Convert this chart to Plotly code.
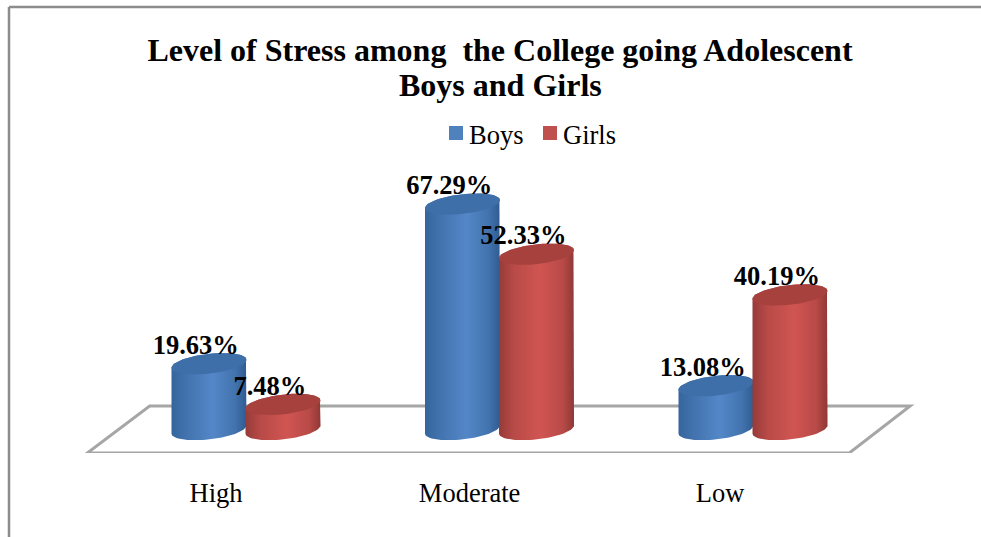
import numpy as np
import plotly.graph_objects as go

categories = ["High", "Moderate", "Low"]
series_names = ["Boys", "Girls"]
boys = [19.63, 67.29, 13.08]
girls = [7.48, 52.33, 40.19]

BOYS_RAMP = [[0, "#35659c"], [0.2, "#4273ae"], [0.55, "#5487c8"], [0.85, "#4273ae"], [1, "#2f5b90"]]
GIRLS_RAMP = [[0, "#963b39"], [0.2, "#b84a47"], [0.55, "#d05552"], [0.85, "#b84a47"], [1, "#8f3836"]]
BOYS_CAP = "#3f6fa8"
GIRLS_CAP = "#a6413e"
SWATCHES = ["#4f81bd", "#c0504d"]

W, H = 981, 537
M_L, M_R, M_T, M_B = 9, 36, 7, 84
PLOT_W, PLOT_H = W - M_L - M_R, H - M_T - M_B
OFFSET = 0.146    # bar centre relative to its category
HALF_W = 0.148    # cylinder half width, in category units
CAP_B = 2.95      # ellipse half height, in value units
CAP_TILT = 1.2    # rise of the ellipse towards its right side
TICK_POS = [-0.118, 0.882, 1.87]  # category labels sit left of the bars in this projection
SERIF = "Liberation Serif"


def px_x(p):
    return (p - M_L) / PLOT_W


def px_y(p):
    return 1 - (p - M_T) / PLOT_H


fig = go.Figure()


def cylinder(cx, value, ramp, cap):
    t = np.linspace(0, 2 * np.pi, 73)
    lower = np.linspace(np.pi, 2 * np.pi, 37)
    upper = np.linspace(0, np.pi, 37)
    # body outline: bottom arc left to right, then back across the top
    bx = np.concatenate([cx + HALF_W * np.cos(lower), cx + HALF_W * np.cos(upper)])
    by = np.concatenate([
        CAP_B * np.sin(lower) + CAP_TILT * np.cos(lower),
        value + CAP_B * np.sin(upper) + CAP_TILT * np.cos(upper),
    ])
    fig.add_trace(go.Scatter(
        x=bx, y=by, mode="lines", line=dict(width=0), fill="toself",
        fillgradient=dict(type="horizontal", colorscale=ramp),
        hoverinfo="skip", showlegend=False,
    ))
    fig.add_trace(go.Scatter(
        x=cx + HALF_W * np.cos(t),
        y=value + CAP_B * np.sin(t) + CAP_TILT * np.cos(t),
        mode="lines", line=dict(width=0), fill="toself", fillcolor=cap,
        hoverinfo="skip", showlegend=False,
    ))


for i in range(len(categories)):
    cylinder(i - OFFSET, boys[i], BOYS_RAMP, BOYS_CAP)
    cylinder(i + OFFSET, girls[i], GIRLS_RAMP, GIRLS_CAP)

# value labels sit above and a little left of each cylinder top
xs = [i + d - 0.052 for i in range(len(categories)) for d in (-OFFSET, OFFSET)]
ys = [v + 4.9 for pair in zip(boys, girls) for v in pair]
texts = [f"{v:.2f}%" for pair in zip(boys, girls) for v in pair]
fig.add_trace(go.Scatter(
    x=xs, y=ys, text=texts, mode="text", textposition="middle center",
    textfont=dict(family=SERIF, size=26.5, color="#000000", weight="bold"),
    hoverinfo="skip", showlegend=False,
))

# floor of the 3D box
floor_x = [-0.626, 2.38, 2.62, -0.38, -0.626]
floor_y = [-7.01, -7.01, 7.01, 7.01, -7.01]
fig.add_shape(
    type="path", xref="x", yref="y", layer="below",
    path="M " + " L ".join(f"{a},{b}" for a, b in zip(floor_x, floor_y)) + " Z",
    line=dict(color="#a6a6a6", width=3), fillcolor="#ffffff",
)

# outer frame: left and top edges only
frame = dict(color="#8c8c8c", width=2.5)
fig.add_shape(type="line", xref="paper", yref="paper",
              x0=px_x(9), x1=px_x(9), y0=px_y(537), y1=px_y(7), line=frame)
fig.add_shape(type="line", xref="paper", yref="paper",
              x0=px_x(9), x1=px_x(981), y0=px_y(7), y1=px_y(7), line=frame)

# series key, with a tighter swatch-to-text gap than the stock legend allows
for name, colour, sw_left, txt_left in zip(series_names, SWATCHES, (449, 543), (468, 562)):
    fig.add_shape(type="rect", xref="paper", yref="paper", line=dict(width=0),
                  fillcolor=colour, x0=px_x(sw_left), x1=px_x(sw_left + 14),
                  y0=px_y(140), y1=px_y(126))
    fig.add_annotation(text=name, xref="paper", yref="paper", x=px_x(txt_left), y=px_y(135),
                       xanchor="left", yanchor="middle", showarrow=False, xshift=-1,
                       font=dict(family=SERIF, size=26.5, color="#000000"))

fig.add_annotation(text="Boys and Girls", xref="paper", yref="paper", x=px_x(500), y=px_y(85),
                   xanchor="center", yanchor="middle", showarrow=False,
                   font=dict(family=SERIF, size=32, color="#000000", weight="bold"))

fig.update_layout(
    width=W, height=H,
    margin=dict(l=M_L, r=M_R, t=M_T, b=M_B, autoexpand=False),
    paper_bgcolor="#ffffff", plot_bgcolor="#ffffff",
    showlegend=False,
    title=dict(
        text="Level of Stress among\u00a0 the College going Adolescent",
        font=dict(family=SERIF, size=32, color="#000000", weight="bold"),
        x=500 / W, xanchor="center", y=1 - 50 / H, yanchor="middle",
    ),
    xaxis=dict(
        range=[(M_L - 246) / 253.5, (W - M_R - 246) / 253.5],
        tickmode="array", tickvals=TICK_POS,
        ticktext=categories,
        tickfont=dict(family=SERIF, size=26.5, color="#000000"),
        showgrid=False, zeroline=False, showline=False, ticks="",
        ticklabelstandoff=21,
    ),
    yaxis=dict(range=[-7.01, (429.5 - M_T) / 3.35], visible=False, showgrid=False, zeroline=False),
)

fig.write_html("out.html")
